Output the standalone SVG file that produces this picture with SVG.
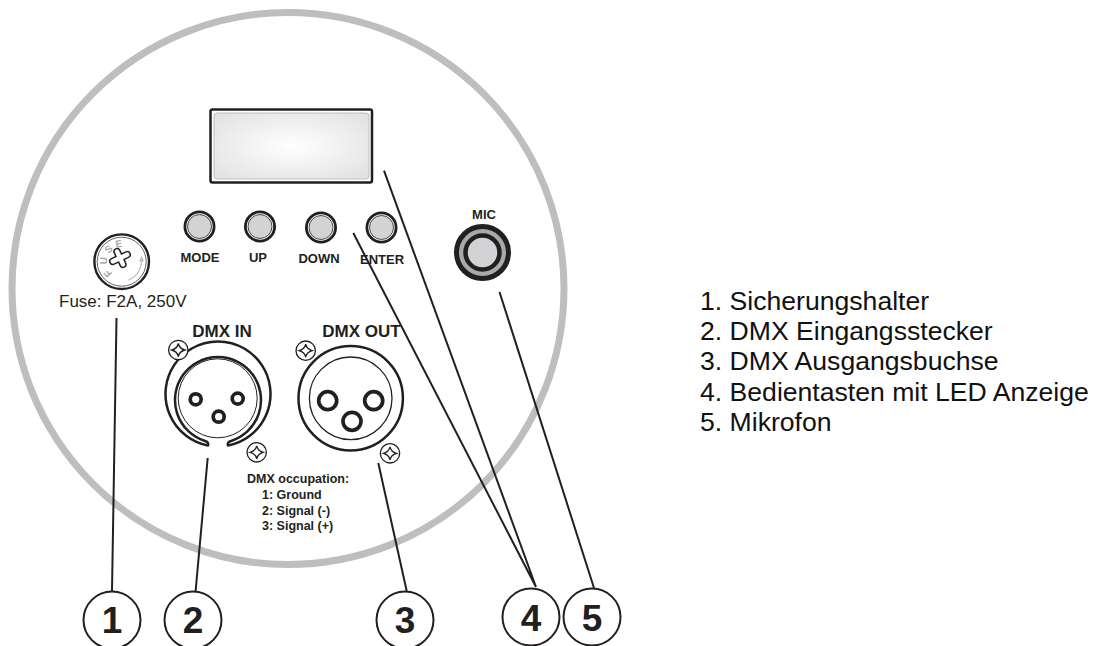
<svg xmlns="http://www.w3.org/2000/svg" width="1093" height="646" viewBox="0 0 1093 646">
<style>
text{font-family:"Liberation Sans",Arial,sans-serif;fill:#231f20}
.lbl{font-weight:bold;font-size:13px;text-anchor:middle}
.dmx{font-weight:bold;font-size:17px;text-anchor:middle}
.occ{font-weight:bold;font-size:12.5px}
.leg{font-size:26.6px;fill:#111}
.num{font-weight:bold;font-size:37px;text-anchor:middle}
.fl{font-weight:bold;font-size:10px;text-anchor:middle;fill:#a7a9ac}
.ln{stroke:#231f20;stroke-width:2;fill:none}
.nc{stroke:#231f20;stroke-width:2;fill:#fff}
.screw{fill:#fff;stroke:#231f20;stroke-width:1.3}
</style>
<defs>
<radialGradient id="lcd" cx="50%" cy="50%" r="70%"><stop offset="0" stop-color="#fff"/><stop offset="1" stop-color="#dfe0e1"/></radialGradient>
<g id="sc"><circle class="screw" r="9.7"/><path class="screw" d="M0-6.5Q1 -1.5 6.5 0Q1 1.5 0 6.5Q-1 1.5-6.5 0Q-1-1.5 0-6.5Z"/></g>
<g id="bt"><circle r="14.6" fill="#fff" stroke="#231f20" stroke-width="2.8"/><circle r="12" fill="#d1d3d4" stroke="#231f20" stroke-width="0.8"/></g>
</defs>
<rect width="1093" height="646" fill="#fff"/>
<circle id="housing" cx="288" cy="288.5" r="276" fill="none" stroke="#bcbec0" stroke-width="7"/>
<g id="display"><rect x="210.5" y="109.5" width="161.5" height="73" rx="2" fill="#fff" stroke="#231f20" stroke-width="2.5"/><rect x="214" y="113" width="155" height="66" rx="3" fill="url(#lcd)" stroke="#bcbec0" stroke-width="1"/></g>
<g id="btn-mode"><use href="#bt" x="199.5" y="226.5"/><text class="lbl" x="200" y="262">MODE</text></g>
<g id="btn-up"><use href="#bt" x="260" y="226.5"/><text class="lbl" x="258" y="262">UP</text></g>
<g id="btn-down"><use href="#bt" x="321" y="227.5"/><text class="lbl" x="319" y="263">DOWN</text></g>
<g id="btn-enter"><use href="#bt" x="381.5" y="227.5"/><text class="lbl" x="382" y="264">ENTER</text></g>
<g id="mic"><circle cx="482.5" cy="252.5" r="26" fill="#a7a9ac" stroke="#231f20" stroke-width="5"/><circle cx="482.5" cy="252.5" r="17" fill="#d1d3d4" stroke="#231f20" stroke-width="4.5"/><text class="lbl" x="484" y="219">MIC</text></g>
<g id="fuse"><circle cx="121.7" cy="261.7" r="27.3" fill="#fff" stroke="#231f20" stroke-width="2.4"/><circle cx="121.7" cy="261.7" r="24.5" fill="none" stroke="#231f20" stroke-width="0.7"/>
<g transform="translate(120 258) rotate(-25)" fill="none" stroke-linecap="round"><path d="M-8 0H8M0-7V7" stroke="#231f20" stroke-width="7.5"/><path d="M-8 0H8M0-7V7" stroke="#fff" stroke-width="4.5"/></g>
<path d="M128.5 280Q141 275 141.5 260" fill="none" stroke="#bcbec0" stroke-width="1.2"/><path d="M139 261.5L141.7 255.5 144 261.5Z" fill="#bcbec0"/>
<text class="fl" x="121.7" y="247" transform="rotate(-130 121.7 261.7)">F</text><text class="fl" x="121.7" y="247" transform="rotate(-87 121.7 261.7)">U</text><text class="fl" x="121.7" y="247" transform="rotate(-47 121.7 261.7)">S</text><text class="fl" x="121.7" y="247" transform="rotate(-9 121.7 261.7)">E</text>
<text x="59" y="306.5" font-size="17">Fuse: F2A, 250V</text></g>
<g id="dmx-in"><text class="dmx" x="222" y="336.5">DMX IN</text>
<path d="M208 445.5Q209 442 205 441A43 43 0 1 1 231 441Q227 442 228 445.5A52.5 52.5 0 1 0 208 445.5Z" fill="#fff" stroke="#231f20" stroke-width="2.5" stroke-linejoin="round"/>
<circle cx="217.7" cy="398.3" r="39.5" fill="#fff" stroke="#231f20" stroke-width="1"/>
<g fill="#fff" stroke="#231f20" stroke-width="3.7"><circle cx="195.7" cy="399.3" r="5.5"/><circle cx="237.7" cy="398.6" r="5.5"/><circle cx="218.7" cy="416.7" r="5.5"/></g>
<use href="#sc" x="178.3" y="350"/><use href="#sc" x="256.7" y="452.3"/></g>
<g id="dmx-out"><text class="dmx" x="361.5" y="336.5">DMX OUT</text>
<circle cx="350.7" cy="398.3" r="52.2" fill="#fff" stroke="#231f20" stroke-width="2.5"/><circle cx="350.7" cy="398.3" r="41.3" fill="#fff" stroke="#231f20" stroke-width="1.3"/>
<g fill="#fff" stroke="#231f20" stroke-width="3.7"><circle cx="327.7" cy="400.7" r="9"/><circle cx="373.7" cy="400.7" r="9"/><circle cx="352" cy="421.3" r="9"/></g>
<use href="#sc" x="305.7" y="350.7"/><use href="#sc" x="390" y="453.3"/></g>
<g id="occupation"><text class="occ" x="247" y="483">DMX occupation:</text><text class="occ" x="262" y="499">1: Ground</text><text class="occ" x="262" y="514.5">2: Signal (-)</text><text class="occ" x="262" y="530">3: Signal (+)</text></g>
<g id="connectors"><path class="ln" d="M116.5 318L112 591M207.7 458L195.6 591M378.3 463L406.7 591M384 170.7L536 587M353.3 233L536 587M499.5 292L594 588"/></g>
<g id="n1"><circle class="nc" cx="112" cy="620" r="28.5"/><text class="num" x="112" y="633">1</text></g>
<g id="n2"><circle class="nc" cx="193" cy="620" r="28.5"/><text class="num" x="193" y="633">2</text></g>
<g id="n3"><circle class="nc" cx="405" cy="620" r="28.5"/><text class="num" x="405" y="633">3</text></g>
<g id="n4"><circle class="nc" cx="531" cy="617" r="28.5"/><text class="num" x="531" y="631">4</text></g>
<g id="n5"><circle class="nc" cx="592" cy="617" r="28.5"/><text class="num" x="592" y="631">5</text></g>
<g id="legend"><text class="leg" x="700" y="309.5">1. Sicherungshalter</text><text class="leg" x="700" y="340">2. DMX Eingangsstecker</text><text class="leg" x="700" y="370">3. DMX Ausgangsbuchse</text><text class="leg" x="700" y="400.5">4. Bedientasten mit LED Anzeige</text><text class="leg" x="700" y="431">5. Mikrofon</text></g>
</svg>
